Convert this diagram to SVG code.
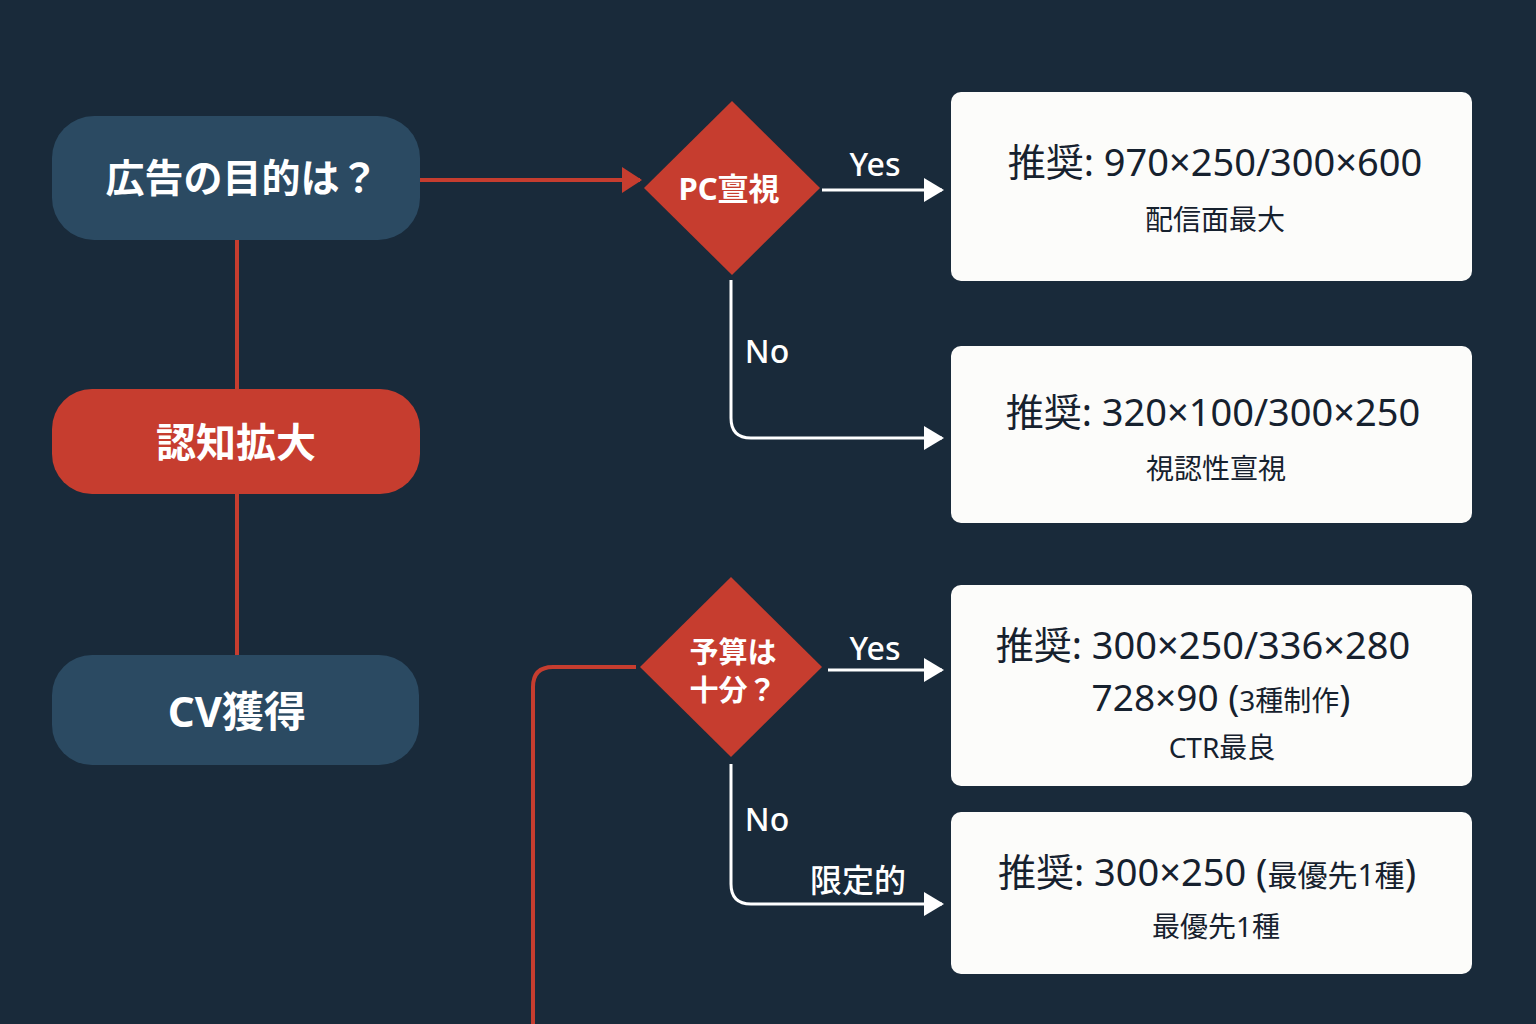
<svg xmlns="http://www.w3.org/2000/svg" width="1536" height="1024" viewBox="0 0 1536 1024">
<defs>
<marker id="aw" markerWidth="20" markerHeight="24" refX="18" refY="12" orient="auto" markerUnits="userSpaceOnUse"><path d="M0,0 L20,12 L0,24 Z" fill="#ffffff"/></marker>
<marker id="ar" markerWidth="20" markerHeight="26" refX="18" refY="13" orient="auto" markerUnits="userSpaceOnUse"><path d="M0,0 L20,13 L0,26 Z" fill="#c63d2f"/></marker>
</defs>
<style>
.jp{font-family:"Noto Sans","Noto Sans CJK JP",sans-serif}
.nodeText{fill:#ffffff;font-weight:700;text-anchor:middle}
.boxText{fill:#16212e;text-anchor:middle}
.lbl{fill:#ffffff;font-weight:500;font-size:32px}
.blue{fill:#2b4a62}
.red{fill:#c63d2f}
.box{fill:#fcfcfa}
.wline{stroke:#ffffff;stroke-width:3;fill:none}
.rline{stroke:#c63d2f;stroke-width:4;fill:none}
</style>
<rect width="1536" height="1024" fill="#192a3a"/>
<g id="connectors">
<line class="rline" x1="237" y1="240" x2="237" y2="389"/>
<line class="rline" x1="237" y1="494" x2="237" y2="655"/>
<line class="rline" x1="420" y1="180" x2="640" y2="180" marker-end="url(#ar)"/>
<path class="rline" d="M636,667 H553 Q533,667 533,687 V1024"/>
<line class="wline" x1="822" y1="190" x2="942" y2="190" marker-end="url(#aw)"/>
<path class="wline" d="M731,280 V418 Q731,438 751,438 H942" marker-end="url(#aw)"/>
<line class="wline" x1="828" y1="670" x2="942" y2="670" marker-end="url(#aw)"/>
<path class="wline" d="M731,764 V884 Q731,904 751,904 H942" marker-end="url(#aw)"/>
<text class="jp lbl" x="875" y="176" text-anchor="middle">Yes</text>
<text class="jp lbl" x="767" y="363" text-anchor="middle">No</text>
<text class="jp lbl" x="875" y="660" text-anchor="middle">Yes</text>
<text class="jp lbl" x="767" y="831" text-anchor="middle">No</text>
<text class="jp lbl" x="858" y="892" text-anchor="middle" font-size="31">限定的</text>
</g>
<g id="n-purpose">
<rect class="blue" x="52" y="116" width="368" height="124" rx="42"/>
<text class="jp nodeText" x="242" y="192" font-size="39">広告の目的は？</text>
</g>
<g id="n-awareness">
<rect class="red" x="52" y="389" width="368" height="105" rx="40"/>
<text class="jp nodeText" x="236" y="457" font-size="40">認知拡大</text>
</g>
<g id="n-cv">
<rect class="blue" x="52" y="655" width="367" height="110" rx="40"/>
<text class="jp nodeText" x="237" y="727" font-size="42" font-weight="500">CV獲得</text>
</g>
<g id="d-pc">
<polygon class="red" points="732,101 820,188 732,275 644,188"/>
<text class="jp nodeText" x="729" y="200" font-size="31">PC亶視</text>
</g>
<g id="d-budget">
<polygon class="red" points="731,577 822,667 731,757 640,667"/>
<text class="jp nodeText" x="733" y="663" font-size="29">予算は</text>
<text class="jp nodeText" x="733" y="701" font-size="29">十分？</text>
</g>
<g id="b-pc-yes">
<rect class="box" x="951" y="92" width="521" height="189" rx="10"/>
<text class="jp boxText" x="1215" y="176" font-size="38">推奨: 970×250/300×600</text>
<text class="jp boxText" x="1215" y="230" font-size="28">配信面最大</text>
</g>
<g id="b-pc-no">
<rect class="box" x="951" y="346" width="521" height="177" rx="10"/>
<text class="jp boxText" x="1213" y="426" font-size="38">推奨: 320×100/300×250</text>
<text class="jp boxText" x="1216" y="479" font-size="28">視認性亶視</text>
</g>
<g id="b-budget-yes">
<rect class="box" x="951" y="585" width="521" height="201" rx="10"/>
<text class="jp boxText" x="1203" y="659" font-size="38">推奨: 300×250/336×280</text>
<text class="jp boxText" x="1221" y="711" font-size="37">728×90 (<tspan font-size="28">3種制作</tspan>)</text>
<text class="jp boxText" x="1222" y="758" font-size="28">CTR最良</text>
</g>
<g id="b-budget-no">
<rect class="box" x="951" y="812" width="521" height="162" rx="10"/>
<text class="jp boxText" x="1207" y="886" font-size="38">推奨: 300×250 (<tspan font-size="30">最優先1種</tspan>)</text>
<text class="jp boxText" x="1216" y="937" font-size="28">最優先1種</text>
</g>
</svg>
